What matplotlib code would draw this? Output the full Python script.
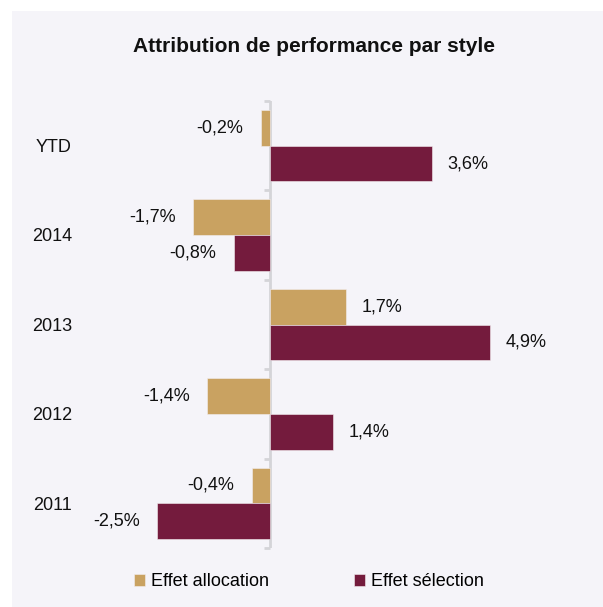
import numpy as np
import matplotlib; matplotlib.use("Agg")
import matplotlib.pyplot as plt
from matplotlib.patches import Rectangle
from matplotlib.transforms import blended_transform_factory

plt.rcParams['font.family'] = ['Liberation Sans', 'DejaVu Sans']

# data
categories = ["YTD", "2014", "2013", "2012", "2011"]
allocation = [-0.2, -1.7, 1.7, -1.4, -0.4]
selection = [3.6, -0.8, 4.9, 1.4, -2.5]
series_names = ["Effet allocation", "Effet sélection"]

TAN = "#C9A261"; MAROON = "#741B3D"; BG = "#F5F4F9"; AXC = "#D4D4D8"
W, H = 603, 607

fig = plt.figure(figsize=(W/100, H/100), dpi=100)
fig.patch.set_facecolor("white")
fig.add_artist(Rectangle((12/W, 0), 1, 1 - 11/H, transform=fig.transFigure,
                         facecolor=BG, edgecolor="none", zorder=-10))

ax = fig.add_axes([100/W, 1 - 548/H, 440/W, (548 - 101)/H])
ax.set_facecolor("none")
n = len(categories)
y = np.arange(n)
bh = 0.4
ax.barh(y - bh/2, allocation, height=bh, color=TAN, edgecolor="#F3EEF2", linewidth=0.4, label=series_names[0])
ax.barh(y + bh/2, selection, height=bh, color=MAROON, edgecolor="#F3EEF2", linewidth=0.4, label=series_names[1])
ax.set_xlim(-3.767, 6.011)
ax.set_ylim(n - 0.5, -0.5)

# data labels
for vals, off in ((allocation, -bh/2), (selection, bh/2)):
    for i, v in enumerate(vals):
        txt = f"{v:.1f}%".replace(".", ",")
        ax.annotate(txt, (v, i + off), xytext=(16 if v > 0 else -17, 0), textcoords="offset pixels",
                    ha="left" if v > 0 else "right", va="center", fontsize=13, color="#111111")

for s in ax.spines.values():
    s.set_visible(False)
ax.set_xticks([]); ax.set_yticks([])
ax.axvline(0, color=AXC, lw=2, zorder=0)
# small tick marks left of the axis at category boundaries
for b in np.arange(-0.5, n, 1.0):
    ax.plot([-0.12, 0], [b, b], color=AXC, lw=2, solid_capstyle="butt", clip_on=False)

lt = blended_transform_factory(fig.transFigure, ax.transData)
for i, c in enumerate(categories):
    ax.text(72/W, i + 0.02, c, transform=lt, ha="right", va="center", fontsize=13, color="#111111")

fig.text(314/W, 1 - 46/H, "Attribution de performance par style", ha="center", va="center",
         fontsize=15, fontweight="bold", color="#111111")

fig.legend(loc="center", bbox_to_anchor=(309/W, 1 - 582/H), ncol=2, frameon=False,
           fontsize=13, handlelength=0.6, handleheight=0.6, handletextpad=0.3,
           columnspacing=4.75)

fig.savefig("out.png", dpi=100)
